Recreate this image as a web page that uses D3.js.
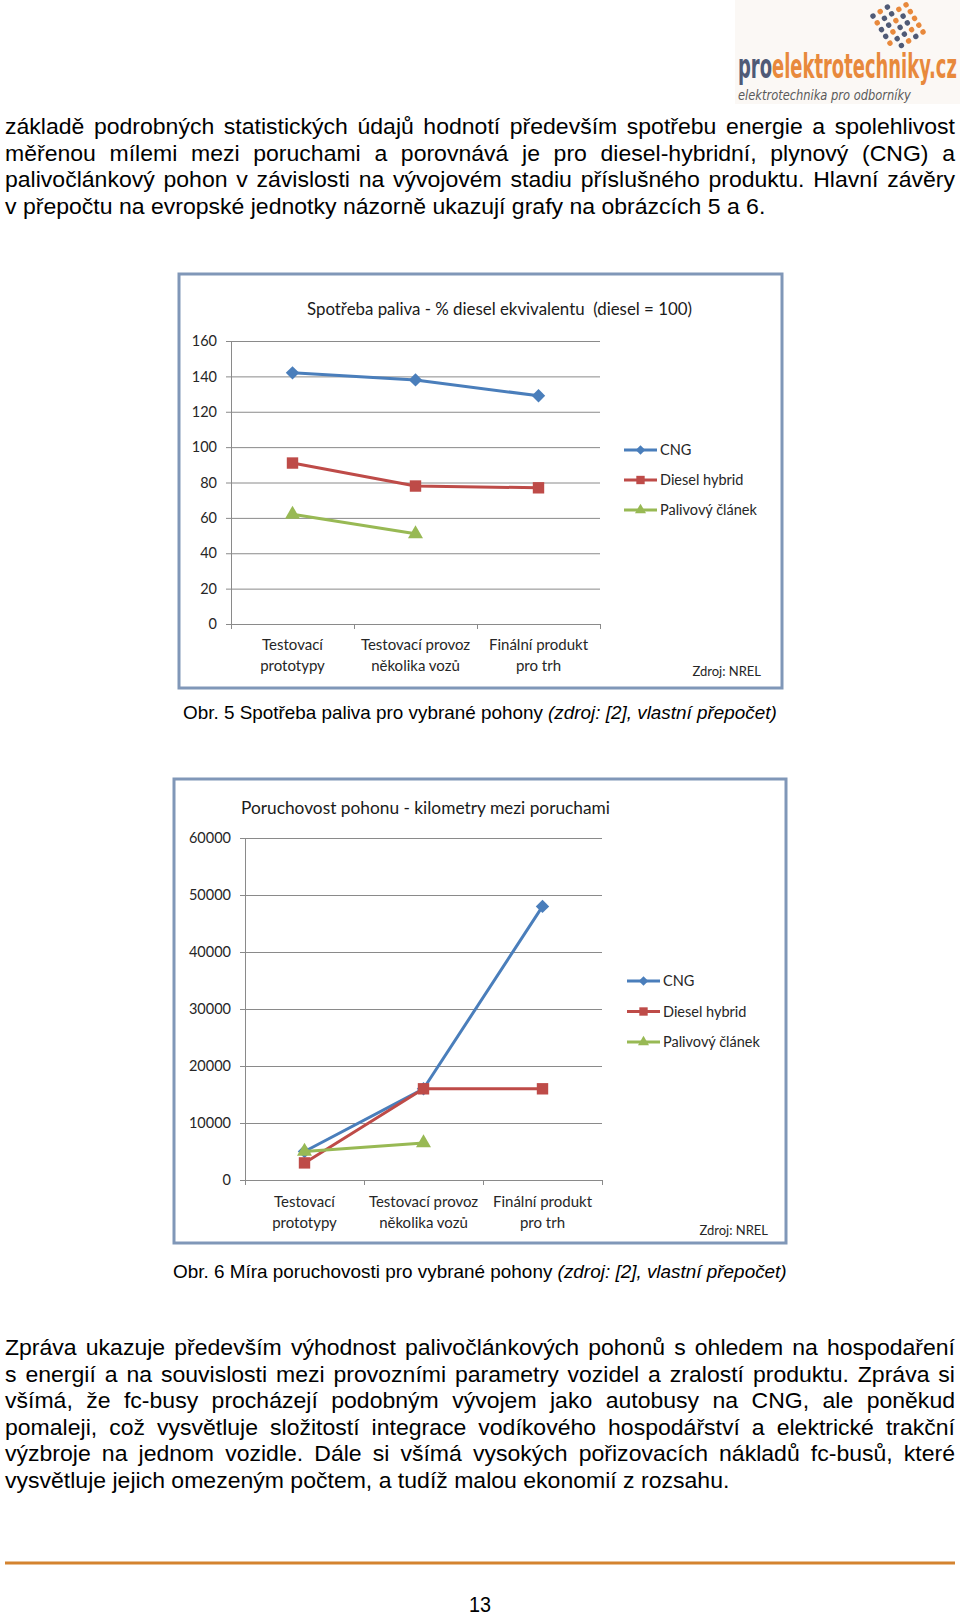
<!DOCTYPE html>
<html><head><meta charset="utf-8">
<script src="https://cdn.jsdelivr.net/npm/d3@7"></script>
<style>body{margin:0;background:#fff}svg{display:block}</style>
</head><body>
<svg id="page" width="960" height="1616"></svg>
<script>
// ---------- data ----------
const categories = [["Testovací","prototypy"],["Testovací provoz","několika vozů"],["Finální produkt","pro trh"]];
const seriesNames = ["CNG","Diesel hybrid","Palivový článek"];
const fuelCNG = [142,138,129];
const fuelDiesel = [91,78,77];
const fuelFC = [62,51,null];
const fuelTicks = [0,20,40,60,80,100,120,140,160];
const relCNG = [5000,16000,48000];
const relDiesel = [3000,16000,16000];
const relFC = [5000,6500,null];
const relTicks = [0,10000,20000,30000,40000,50000,60000];
const para1 = [
 "základě podrobných statistických údajů hodnotí především spotřebu energie a spolehlivost",
 "měřenou mílemi mezi poruchami a porovnává je pro diesel-hybridní, plynový (CNG) a",
 "palivočlánkový pohon v závislosti na vývojovém stadiu příslušného produktu. Hlavní závěry",
 "v přepočtu na evropské jednotky názorně ukazují grafy na obrázcích 5 a 6."
];
const para2 = [
 "Zpráva ukazuje především výhodnost palivočlánkových pohonů s ohledem na hospodaření",
 "s energií a na souvislosti mezi provozními parametry vozidel a zralostí produktu. Zpráva si",
 "všímá, že fc-busy procházejí podobným vývojem jako autobusy na CNG, ale poněkud",
 "pomaleji, což vysvětluje složitostí integrace vodíkového hospodářství a elektrické trakční",
 "výzbroje na jednom vozidle. Dále si všímá vysokých pořizovacích nákladů fc-busů, které",
 "vysvětluje jejich omezeným počtem, a tudíž malou ekonomií z rozsahu."
];

// ---------- styles ----------
const colors = ["#4a7ebb","#be4b48","#98b954"];
const bodyFont = "'Liberation Sans', Arial, sans-serif";
const chartFont = "Lato, 'Open Sans', sans-serif";
const logoFont = "'Liberation Sans Narrow','DejaVu Sans Condensed','Liberation Sans',sans-serif";
const svg = d3.select("#page");

function measure(txt, size, family, extra){
  const t = svg.append("text").attr("font-family",family).attr("font-size",size).text(txt);
  if (extra) extra(t);
  const w = t.node().getComputedTextLength(); t.remove(); return w;
}

// ---------- logo ----------
const logo = svg.append("g");
logo.append("rect").attr("x",735).attr("y",0).attr("width",225).attr("height",104).attr("fill","#fbf8f5");
const dotG = logo.append("g").attr("transform","translate(898,24) rotate(-32)");
d3.range(6).forEach(r => d3.range(5).forEach(c => {
  if ((r===0 && c>2) || (r===5 && c<1)) return;
  dotG.append("circle").attr("cx",(c-2)*8.5).attr("cy",(r-2.5)*8)
    .attr("r",2.7).attr("fill", ((r+c)%3===1 || c===4) ? "#e8893c" : "#4f5a76");
}));
{
  const bold = t=>t.attr("font-weight","bold");
  const size = 34;
  const wPro = measure("pro", size, logoFont, bold);
  const wAll = measure("proelektrotechniky.cz", size, logoFont, bold);
  const k = 219 / wAll;
  const lg = logo.append("g").attr("transform",`translate(738,78) scale(${k},1)`)
    .attr("font-family",logoFont).attr("font-weight","bold").attr("font-size",size);
  lg.append("text").attr("x",0).attr("y",0).attr("fill","#4f5a76").text("pro");
  lg.append("text").attr("x",wPro).attr("y",0).attr("fill","#e8893c").text("elektrotechniky.cz");
  const it = t=>t.attr("font-style","italic");
  const w2 = measure("elektrotechnika pro odborníky", 14.5, logoFont, it);
  logo.append("text").attr("transform",`translate(738,100) scale(${173/w2},1)`)
    .attr("font-family",logoFont).attr("font-style","italic").attr("font-size",14.5).attr("fill","#5a5a5a")
    .text("elektrotechnika pro odborníky");
}

// ---------- body text ----------
const bodySize = 22;
const sx = ((760/measure(para1[3],bodySize,bodyFont)) + (725/measure(para2[5],bodySize,bodyFont)))/2;
function paragraph(lines, x, y0, lead, width){
  lines.forEach((line,i)=>{
    const t = svg.append("text").attr("font-family",bodyFont).attr("font-size",bodySize).attr("fill","#000")
      .attr("transform",`translate(${x},${y0+i*lead}) scale(${sx},1)`).text(line);
    if (i < lines.length-1){
      const nat = t.node().getComputedTextLength();
      const n = (line.match(/ /g)||[]).length;
      t.style("word-spacing", ((width/sx - nat)/n) + "px");
    }
  });
}
paragraph(para1, 5, 134, 26.6, 950);
paragraph(para2, 5, 1355, 26.6, 950);

// captions
function caption(normal, ital, x, y, width){
  const t = svg.append("text").attr("font-family",bodyFont).attr("font-size",18).attr("fill","#000");
  t.append("tspan").text(normal);
  t.append("tspan").attr("font-style","italic").text(ital);
  const nat = t.node().getComputedTextLength();
  t.attr("transform",`translate(${x},${y}) scale(${width/nat},1)`);
}
caption("Obr. 5 Spotřeba paliva pro vybrané pohony ","(zdroj: [2], vlastní přepočet)",183,719,594);
caption("Obr. 6 Míra poruchovosti pro vybrané pohony ","(zdroj: [2], vlastní přepočet)",173,1278,614);

// footer
svg.append("line").attr("x1",5).attr("x2",955).attr("y1",1563).attr("y2",1563)
  .attr("stroke","#d4832f").attr("stroke-width",3);
svg.append("text").attr("transform","translate(480,1612) scale(0.9,1)").attr("text-anchor","middle")
  .attr("font-family",bodyFont).attr("font-size",22).text("13");

// ---------- charts ----------
function marker(g, i, size){
  if (i===0) g.append("path").attr("d", d3.symbol(d3.symbolSquare, size)()).attr("transform","rotate(45)");
  else if (i===1) g.append("path").attr("d", d3.symbol(d3.symbolSquare, size)());
  else g.append("path").attr("d", d3.symbol(d3.symbolTriangle, size*0.75)());
}
function drawChart(cfg){
  const g = svg.append("g").attr("font-family",chartFont);
  const [fx,fy,fw,fh] = cfg.frame;
  g.append("rect").attr("x",fx).attr("y",fy).attr("width",fw).attr("height",fh)
    .attr("fill","#fff").attr("stroke","#8097b8").attr("stroke-width",3);
  const p = cfg.plot;
  const y = d3.scaleLinear().domain([0, d3.max(cfg.ticks)]).range([p.bottom, p.top]);
  const x = d3.scaleBand().domain(d3.range(categories.length)).range([p.left, p.right]);
  const bound = d3.scaleLinear().domain([0,categories.length]).range([p.left,p.right]);
  // gridlines
  g.append("g").attr("transform",`translate(${p.left},0)`)
    .call(d3.axisLeft(y).tickValues(cfg.ticks.slice(1)).tickSize(-(p.right-p.left)).tickFormat(""))
    .call(s=>{s.select(".domain").remove(); s.selectAll("line").attr("stroke","#8a8a8a").attr("stroke-width",1);});
  // y axis
  g.append("g").attr("transform",`translate(${p.left},0)`)
    .call(d3.axisLeft(y).tickValues(cfg.ticks).tickSize(5).tickPadding(9).tickSizeOuter(0).tickFormat(d3.format("d")))
    .call(s=>{s.select(".domain").attr("stroke","#8a8a8a");
      s.selectAll("line").attr("stroke","#8a8a8a");
      s.selectAll("text").attr("font-size",14.5).attr("fill","#262626").attr("font-family",chartFont);});
  // x axis
  g.append("g").attr("transform",`translate(0,${p.bottom})`)
    .call(d3.axisBottom(bound).tickValues(d3.range(categories.length+1)).tickSize(5).tickFormat("").tickSizeOuter(0))
    .call(s=>{s.select(".domain").attr("stroke","#8a8a8a"); s.selectAll("line").attr("stroke","#8a8a8a");});
  g.append("g").selectAll("text").data(categories).join("text")
    .attr("text-anchor","middle").attr("font-size",15).attr("fill","#262626")
    .each(function(d,i){
      const t = d3.select(this);
      d.forEach((ln,j)=> t.append("tspan").attr("x", x(i)+x.bandwidth()/2).attr("y", j===0?cfg.labelY1:cfg.labelY2).text(ln));
    });
  // title
  g.append("text").attr("x",cfg.title.x).attr("y",cfg.title.y).attr("text-anchor",cfg.title.anchor)
    .attr("font-size",16.5).attr("fill","#1a1a1a").style("white-space","pre")
    .attr("textLength",cfg.title.width).attr("lengthAdjust","spacingAndGlyphs").text(cfg.title.text);
  // series
  cfg.series.forEach((vals,si)=>{
    const def = vals.map((v,i)=>({v,i})).filter(d=>d.v!=null);
    g.append("path").attr("d", d3.line().x(d=>x(d.i)+x.bandwidth()/2).y(d=>y(d.v))(def))
      .attr("fill","none").attr("stroke",colors[si]).attr("stroke-width",3).attr("stroke-linejoin","round");
    def.forEach(d=>{
      const mg = g.append("g").attr("transform",`translate(${x(d.i)+x.bandwidth()/2},${y(d.v)})`).attr("fill",colors[si]);
      marker(mg, si, si===0?90:130);
    });
  });
  // legend
  const L = cfg.legend;
  seriesNames.forEach((name,si)=>{
    g.append("line").attr("x1",L.x1).attr("x2",L.x2).attr("y1",L.ys[si]).attr("y2",L.ys[si])
      .attr("stroke",colors[si]).attr("stroke-width",3);
    const mg = g.append("g").attr("transform",`translate(${(L.x1+L.x2)/2},${L.ys[si]})`).attr("fill",colors[si]);
    marker(mg, si, si===0?45:70);
    g.append("text").attr("x",L.tx).attr("y",L.ys[si]).attr("dy","0.35em")
      .attr("font-size",14.5).attr("fill","#262626").text(name);
  });
  g.append("text").attr("x",cfg.source.x).attr("y",cfg.source.y).attr("text-anchor","end")
    .attr("font-size",13).attr("fill","#262626").text("Zdroj: NREL");
}

drawChart({frame:[179,274,603,414], plot:{left:231,right:600,top:341,bottom:624},
  title:{text:"Spotřeba paliva - % diesel ekvivalentu  (diesel = 100)", x:499.5, y:315, anchor:"middle", width:385},
  labelY1:650, labelY2:671, legend:{x1:624,x2:657,tx:660,ys:[450,480,510]},
  source:{x:761,y:676}, ticks:fuelTicks, series:[fuelCNG,fuelDiesel,fuelFC]});

drawChart({frame:[174,779,612,464], plot:{left:245,right:602,top:838,bottom:1180},
  title:{text:"Poruchovost pohonu - kilometry mezi poruchami", x:241, y:814, anchor:"start", width:369},
  labelY1:1207, labelY2:1228, legend:{x1:627,x2:660,tx:663,ys:[981,1011.5,1042]},
  source:{x:768,y:1235}, ticks:relTicks, series:[relCNG,relDiesel,relFC]});
</script>
</body></html>
